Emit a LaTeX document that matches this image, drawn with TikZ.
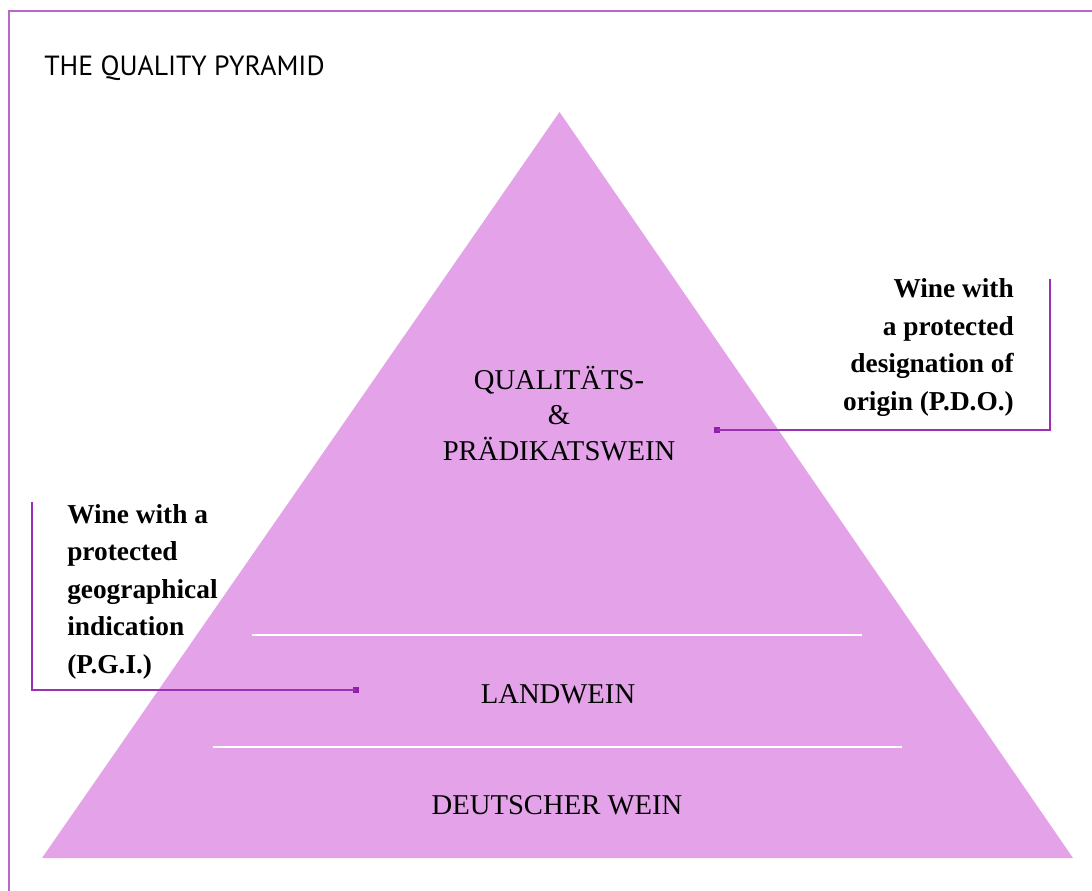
\documentclass[tikz,border=0pt]{standalone}
\usepackage{fontspec}
\setmainfont{Liberation Serif}
\newfontfamily\titlefont{PT Sans}
\usepackage{tikz}

\definecolor{pyrFill}{RGB}{228,162,232}
\definecolor{frameCol}{RGB}{184,104,204}
\definecolor{calloutCol}{RGB}{155,48,181}
\definecolor{dotCol}{RGB}{142,31,168}

\tikzset{
	tierText/.style={anchor=base, inner sep=0.75pt, font=\fontsize{21.5}{26.6}\selectfont},
	noteText/.style={inner sep=0.75pt, font=\bfseries\fontsize{20.5}{28.1}\selectfont},
	callout/.style={draw=calloutCol, line width=1.1pt},
	tierLine/.style={draw=white, line width=2.2pt},
	dotMark/.style={fill=dotCol, minimum size=4.5pt, inner sep=0pt}
}

\begin{document}
\begin{tikzpicture}[x=0.75pt,y=0.75pt,yscale=-1,xscale=1]
	\useasboundingbox (0,0) rectangle (1092,891);
	
	%Frame
	\draw [frameCol, line width=1.1pt] (9,891) -- (9,11) -- (1092,11) ;
	
	%Shape: Pyramid
	\fill [pyrFill] (559.5,112) coordinate (apex) -- (1073,858) coordinate (baseR) -- (42,858) coordinate (baseL) -- cycle ;
	%Straight Lines: tier separators
	\draw [tierLine] (252,635) coordinate (sepAL) -- (862,635) coordinate (sepAR) ;
	\draw [tierLine] (213,747) coordinate (sepBL) -- (902,747) coordinate (sepBR) ;
	
	% Text Node
	\draw (43,76) node (title) [anchor=base west][inner sep=0.75pt]  {\titlefont\fontsize{20.8}{24}\selectfont THE QUALITY PYRAMID};
	% Text Node
	\draw (559,460) node (quali) [tierText, align=center]  {QUALITÄTS-\\\&\\PRÄDIKATSWEIN};
	% Text Node
	\draw (558,703) node (land) [tierText]  {LANDWEIN};
	% Text Node
	\draw (557,814) node (deutsch) [tierText]  {DEUTSCHER WEIN};
	% Text Node
	\draw (1015,410) node (pdo) [noteText, anchor=base east, align=right]  {Wine with\\a protected\\designation of\\origin (P.D.O.)};
	% Text Node
	\draw (66,673) node (pgi) [noteText, anchor=base west, align=left]  {Wine with a\\protected\\geographical\\indication\\(P.G.I.)};
	
	%Callout P.D.O.
	\node (pdoDot) [dotMark] at (717,430) {};
	\coordinate (pdoTop) at (1050,279);
	\draw [callout] (pdoDot.center) -| (pdoTop) ;
	%Callout P.G.I.
	\node (pgiDot) [dotMark] at (356,690) {};
	\coordinate (pgiTop) at (32,502);
	\draw [callout] (pgiDot.center) -| (pgiTop) ;
	
\end{tikzpicture}
\end{document}
